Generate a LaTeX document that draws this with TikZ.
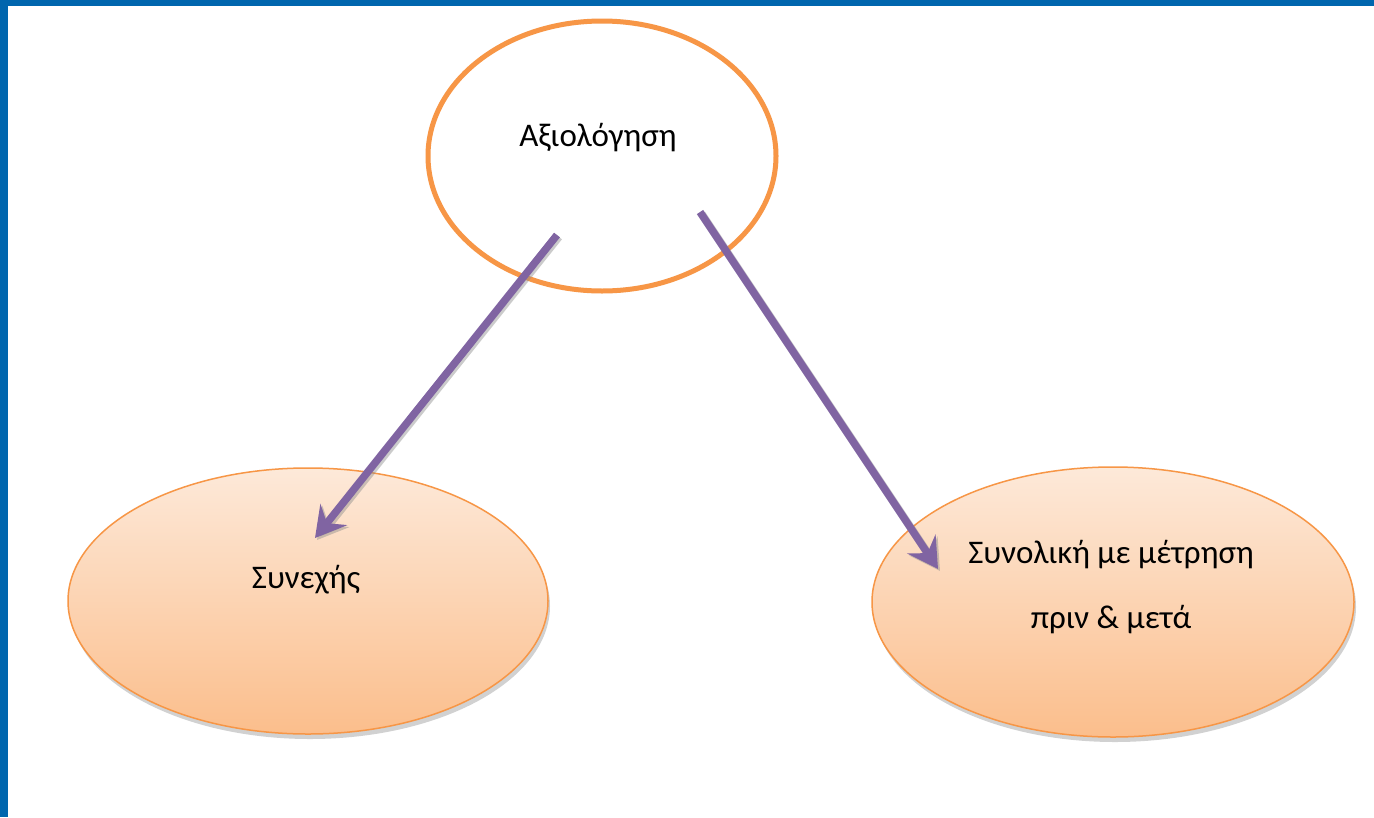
\documentclass[tikz,border=0pt]{standalone}
\usepackage{fontspec}
\setmainfont{Carlito}
\usetikzlibrary{arrows.meta,shadows}
\definecolor{frameblue}{HTML}{0066AE}
\definecolor{accorange}{HTML}{F79646}
\definecolor{accpurple}{HTML}{8064A2}
\definecolor{peachtop}{HTML}{FDE9D9}
\definecolor{peachbot}{HTML}{FBBE8C}
\tikzset{
  subell/.style={draw=accorange, line width=1.5pt, top color=peachtop, bottom color=peachbot,
     drop shadow={shadow xshift=2pt, shadow yshift=-5pt, fill=black, opacity=0.18}},
  lbl/.style={font=\fontsize{33}{65}\selectfont, align=center, text=black},
  conn/.style={draw=accpurple, line width=7.5pt, -{Stealth[length=30pt,width=34pt,inset=11pt]},
     preaction={draw=black!45, opacity=0.45, line width=7.5pt, transform canvas={xshift=2pt,yshift=-2pt}, -{Stealth[length=30pt,width=34pt,inset=11pt]}}}
}
\begin{document}
\begin{tikzpicture}[x=1pt,y=-1pt]
\useasboundingbox (0,0) rectangle (1374,817);
\fill[white] (0,0) rectangle (1374,817);
\fill[frameblue] (0,0) rectangle (1374,6);
\fill[frameblue] (0,0) rectangle (8,817);
% ellipses
\draw[subell] (308,601) ellipse [x radius=240, y radius=133];
\draw[subell] (1113,602) ellipse [x radius=241, y radius=135];
\draw[accorange, line width=5pt, fill=white] (602,156) ellipse [x radius=174, y radius=135];
% labels
\node[lbl] (top) at (598,138) {Αξιολόγηση};
\node[lbl] (left) at (306,580) {Συνεχής};
\node[lbl] (right) at (1111,587) {Συνολική με μέτρηση\\πριν \& μετά};
% connectors
\coordinate (s1) at (557,235);
\coordinate (e1) at (315,538);
\coordinate (s2) at (700,212);
\coordinate (e2) at (938,569);
\draw[conn] (s1) -- (e1);
\draw[conn] (s2) -- (e2);
\end{tikzpicture}
\end{document}
